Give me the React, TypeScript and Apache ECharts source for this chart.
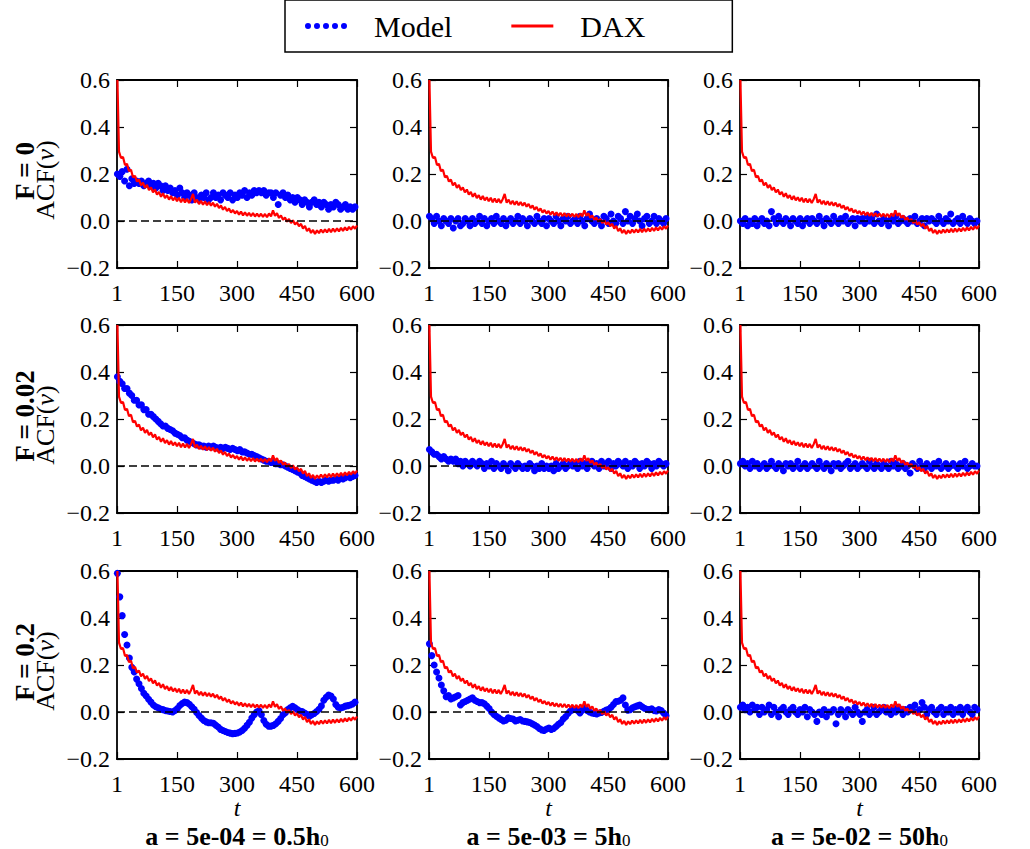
import React, { useEffect, useRef } from "react";
import * as echarts from "echarts";

// ---------- data ----------
const rowLabels = ["F = 0", "F = 0.02", "F = 0.2"];
const colTitles = ["a = 5e-04 = 0.5h", "a = 5e-03 = 5h", "a = 5e-02 = 50h"];
const colTitleSub = "0";
const xLabel = "t";
const yLabelMain = "ACF(";
const yLabelVar = "v";
const seriesNames = ["Model", "DAX"];

// lags of the plotted points
const daxLags = Array.from({ length: 121 }, (_, i) => (i === 0 ? 1 : 5 * i));
const modelLags = Array.from({ length: 100 }, (_, i) => 1 + 6 * i);

// DAX empirical ACF (same in every panel)
const daxValues = [
  0.6,
  0.295, 0.268, 0.272, 0.238, 0.243, 0.212, 0.218, 0.186, 0.192, 0.168,
  0.176, 0.152, 0.163, 0.141, 0.154, 0.131, 0.143, 0.122, 0.134, 0.112,
  0.124, 0.103, 0.118, 0.097, 0.11, 0.091, 0.106, 0.088, 0.101, 0.084,
  0.099, 0.08, 0.096, 0.079, 0.094, 0.077, 0.093, 0.115, 0.078, 0.091,
  0.072, 0.086, 0.069, 0.084, 0.067, 0.081, 0.065, 0.078, 0.061, 0.073,
  0.055, 0.066, 0.048, 0.06, 0.042, 0.053, 0.036, 0.047, 0.032, 0.043,
  0.027, 0.04, 0.024, 0.037, 0.022, 0.035, 0.02, 0.034, 0.019, 0.032,
  0.018, 0.031, 0.017, 0.03, 0.016, 0.032, 0.02, 0.045, 0.022, 0.033,
  0.013, 0.024, 0.005, 0.015, -0.003, 0.009, -0.009, 0.003, -0.015, -0.005,
  -0.022, -0.012, -0.032, -0.021, -0.043, -0.031, -0.051, -0.038, -0.055, -0.04,
  -0.052, -0.036, -0.05, -0.035, -0.049, -0.033, -0.048, -0.032, -0.046, -0.031,
  -0.044, -0.029, -0.042, -0.027, -0.04, -0.025, -0.037, -0.022, -0.033, -0.019,
];

// Model ACF, row F = 0
const modelF0a1 = [
  0.2, 0.19, 0.21, 0.17, 0.22, 0.15, 0.18, 0.16, 0.17, 0.16,
  0.17, 0.15, 0.16, 0.17, 0.15, 0.16, 0.14, 0.16, 0.15, 0.13,
  0.15, 0.13, 0.14, 0.12, 0.13, 0.11, 0.14, 0.12, 0.1, 0.12,
  0.11, 0.09, 0.12, 0.1, 0.09, 0.11, 0.1, 0.12, 0.09, 0.1,
  0.12, 0.1, 0.11, 0.09, 0.12, 0.11, 0.1, 0.12, 0.09, 0.11,
  0.1, 0.12, 0.11, 0.13, 0.1, 0.12, 0.11, 0.13, 0.12, 0.13,
  0.12, 0.13, 0.11, 0.12, 0.12, 0.1, 0.12, 0.07, 0.11, 0.12,
  0.1, 0.11, 0.09, 0.1, 0.08, 0.1, 0.09, 0.07, 0.09, 0.08,
  0.06, 0.08, 0.09, 0.07, 0.08, 0.06, 0.08, 0.07, 0.05, 0.07,
  0.06, 0.08, 0.07, 0.05, 0.06, 0.07, 0.05, 0.06, 0.05, 0.06,
];
const modelF0a2 = [
  0.02, 0.01, -0.01, 0.02, 0.0, -0.02, 0.01, 0.0, -0.01, 0.01,
  -0.03, 0.0, 0.01, -0.02, -0.01, 0.01, 0.0, -0.02, 0.01, -0.01,
  0.0, 0.02, -0.01, 0.01, -0.02, 0.0, 0.01, -0.01, 0.02, 0.0,
  -0.01, 0.01, -0.02, 0.0, 0.01, -0.01, 0.0, 0.02, -0.01, 0.01,
  0.0, -0.02, 0.01, 0.0, -0.01, 0.02, 0.0, -0.01, 0.01, -0.02,
  0.01, 0.0, -0.01, 0.02, 0.0, -0.02, 0.01, 0.0, 0.02, -0.01,
  0.0, 0.01, -0.01, 0.02, 0.0, -0.02, 0.01, 0.03, 0.0, -0.01,
  0.01, 0.0, -0.02, 0.02, 0.01, -0.01, 0.03, 0.0, -0.01, 0.02,
  0.01, -0.01, 0.04, 0.0, 0.02, -0.01, 0.01, 0.03, 0.0, -0.02,
  0.01, 0.02, -0.01, 0.0, 0.02, -0.01, 0.01, 0.0, -0.01, 0.01,
];
const modelF0a3 = [
  0.0, -0.01, 0.01, -0.02, 0.0, -0.01, 0.01, -0.02, 0.0, 0.01,
  -0.01, 0.0, -0.02, 0.04, 0.01, -0.01, 0.02, 0.0, -0.01, 0.01,
  0.0, -0.02, 0.01, 0.0, -0.01, 0.01, -0.02, 0.0, 0.01, -0.01,
  0.01, 0.0, -0.01, 0.02, 0.0, -0.02, 0.01, 0.0, -0.01, 0.02,
  0.0, -0.01, 0.01, 0.0, 0.02, -0.01, 0.0, 0.01, -0.02, 0.01,
  0.0, 0.01, -0.01, 0.02, 0.0, 0.01, -0.01, 0.03, 0.0, -0.01,
  0.01, 0.0, -0.02, 0.01, 0.0, 0.02, -0.01, 0.0, 0.01, 0.0,
  -0.01, 0.01, 0.0, 0.02, -0.01, 0.0, 0.01, -0.02, 0.01, 0.0,
  0.01, 0.0, -0.01, 0.02, 0.0, -0.01, 0.01, 0.0, 0.03, -0.01,
  0.0, 0.01, -0.01, 0.02, 0.0, -0.01, 0.01, 0.0, -0.01, 0.0,
];

// Model ACF, row F = 0.02
const modelF002a1 = [
  0.38, 0.36, 0.35, 0.33, 0.33, 0.31, 0.3, 0.28, 0.28, 0.26,
  0.26, 0.24, 0.24, 0.22, 0.22, 0.21, 0.2, 0.19, 0.18, 0.17,
  0.17, 0.16, 0.155, 0.15, 0.14, 0.135, 0.13, 0.12, 0.12, 0.11,
  0.105, 0.1, 0.095, 0.09, 0.09, 0.085, 0.085, 0.08, 0.085, 0.08,
  0.085, 0.08, 0.075, 0.08, 0.075, 0.08, 0.075, 0.07, 0.075, 0.07,
  0.065, 0.07, 0.06, 0.06, 0.055, 0.05, 0.05, 0.045, 0.04, 0.035,
  0.03, 0.025, 0.02, 0.02, 0.015, 0.015, 0.01, 0.01, 0.005, 0.005,
  0.0, -0.005, -0.01, -0.015, -0.02, -0.025, -0.03, -0.04, -0.045, -0.05,
  -0.055, -0.06, -0.065, -0.07, -0.065, -0.07, -0.065, -0.06, -0.065, -0.06,
  -0.06, -0.055, -0.06, -0.05, -0.055, -0.05, -0.045, -0.05, -0.045, -0.04,
];
const modelF002a2 = [
  0.07, 0.06, 0.05, 0.05, 0.04, 0.03, 0.04, 0.03, 0.02, 0.03,
  0.02, 0.03, 0.01, 0.02, 0.0, 0.02, 0.01, 0.0, 0.02, 0.01,
  0.0, 0.02, 0.01, -0.01, 0.01, 0.0, 0.02, -0.01, 0.01, 0.0,
  -0.01, 0.01, 0.0, -0.02, 0.01, 0.0, -0.01, 0.01, 0.0, -0.01,
  0.0, -0.01, 0.01, 0.0, -0.02, 0.0, -0.01, 0.01, -0.01, 0.0,
  -0.01, 0.0, -0.02, 0.01, -0.01, 0.0, 0.01, -0.01, 0.0, 0.01,
  0.0, 0.01, -0.01, 0.02, 0.0, 0.01, -0.01, 0.01, 0.02, 0.0,
  0.01, -0.01, 0.02, 0.0, 0.01, 0.02, -0.01, 0.01, 0.0, 0.02,
  0.01, 0.0, 0.02, -0.01, 0.01, 0.0, 0.02, 0.01, -0.01, 0.01,
  0.0, 0.02, 0.01, -0.01, 0.01, 0.0, 0.02, 0.01, 0.0, 0.01,
];
const modelF002a3 = [
  0.01, 0.02, 0.0, 0.01, -0.01, 0.02, 0.0, 0.01, -0.01, 0.0,
  0.01, -0.01, 0.0, 0.02, 0.0, -0.01, 0.01, 0.0, -0.02, 0.01,
  0.0, 0.01, -0.01, 0.0, 0.02, -0.01, 0.0, 0.01, -0.01, 0.0,
  0.01, 0.0, -0.01, 0.02, 0.0, -0.01, 0.01, 0.0, -0.02, 0.01,
  0.0, 0.01, -0.01, 0.0, 0.01, 0.02, -0.01, 0.0, 0.01, -0.01,
  0.0, 0.01, 0.0, -0.01, 0.02, 0.0, -0.01, 0.01, 0.0, -0.01,
  0.01, 0.0, -0.01, 0.02, 0.0, 0.01, -0.01, 0.0, 0.01, -0.01,
  0.0, -0.03, 0.01, 0.0, -0.01, 0.02, 0.0, -0.01, 0.01, 0.0,
  -0.01, 0.01, 0.0, 0.02, -0.01, 0.0, 0.01, -0.01, 0.0, 0.01,
  0.0, -0.01, 0.01, 0.0, 0.02, -0.01, 0.0, 0.01, 0.0, 0.0,
];

// Model ACF, row F = 0.2
const modelF02a1 = [
  0.59, 0.49, 0.41, 0.33, 0.285, 0.23, 0.19, 0.17, 0.14, 0.12,
  0.1, 0.08, 0.068, 0.054, 0.042, 0.03, 0.022, 0.018, 0.013, 0.01,
  0.006, 0.004, 0.002, 0.0, 0.006, 0.015, 0.028, 0.036, 0.042, 0.04,
  0.033, 0.022, 0.012, -0.002, -0.015, -0.026, -0.036, -0.042, -0.046, -0.046,
  -0.048, -0.056, -0.064, -0.074, -0.079, -0.083, -0.087, -0.09, -0.092, -0.091,
  -0.089, -0.085, -0.079, -0.069, -0.057, -0.044, -0.026, -0.012, 0.0, 0.005,
  -0.012, -0.036, -0.052, -0.06, -0.06, -0.057, -0.05, -0.04, -0.028, -0.012,
  -0.003, 0.01, 0.018, 0.024, 0.018, 0.01, 0.004, 0.002, -0.004, -0.01,
  -0.018, -0.012, -0.006, 0.002, 0.012, 0.026, 0.05, 0.063, 0.072, 0.068,
  0.055, 0.032, 0.02, 0.017, 0.02, 0.025, 0.027, 0.03, 0.034, 0.042,
];
const modelF02a2 = [
  0.29, 0.24, 0.2, 0.17, 0.145, 0.115, 0.09, 0.065, 0.07, 0.055,
  0.06, 0.065, 0.07, 0.03, 0.04, 0.045, 0.05, 0.055, 0.06, 0.05,
  0.045, 0.04, 0.04, 0.035, 0.025, 0.015, 0.0, -0.01, -0.018, -0.025,
  -0.032, -0.038, -0.035, -0.025, -0.028, -0.03, -0.038, -0.035, -0.032, -0.038,
  -0.04, -0.042, -0.045, -0.05, -0.055, -0.062, -0.07, -0.076, -0.079, -0.072,
  -0.068, -0.074, -0.07, -0.062, -0.052, -0.045, -0.03, -0.02, -0.006, 0.004,
  0.01, 0.012, 0.006, -0.004, 0.008, 0.017, 0.006, 0.0, -0.004, -0.006,
  -0.008, -0.004, -0.002, 0.003, 0.008, 0.012, 0.02, 0.032, 0.044, 0.046,
  0.05, 0.06, 0.03, 0.008, 0.01, 0.018, 0.022, 0.026, 0.03, 0.022,
  0.016, 0.012, 0.01, 0.014, 0.006, 0.004, 0.01, 0.006, -0.004, -0.016,
];
const modelF02a3 = [
  0.02, 0.03, 0.01, 0.02, 0.0, 0.03, 0.01, 0.02, -0.01, 0.02,
  0.0, 0.01, 0.03, -0.01, 0.02, 0.0, -0.02, 0.01, 0.02, 0.0,
  -0.01, 0.01, 0.02, 0.0, -0.01, 0.01, 0.0, 0.02, -0.02, 0.01,
  0.0, -0.01, -0.04, 0.0, -0.01, 0.01, -0.02, 0.0, 0.0, 0.01,
  -0.05, -0.01, 0.01, 0.0, -0.02, 0.01, 0.0, -0.01, 0.02, 0.0,
  -0.01, -0.04, 0.0, 0.01, -0.01, 0.0, 0.02, -0.01, 0.0, 0.01,
  0.02, 0.0, 0.01, -0.01, 0.01, 0.0, 0.02, 0.01, -0.01, 0.01,
  0.0, 0.02, 0.01, 0.03, 0.0, 0.01, 0.04, 0.02, -0.01, 0.01,
  0.02, 0.0, -0.01, 0.01, 0.02, -0.01, 0.01, 0.0, 0.02, -0.01,
  0.01, 0.0, 0.02, -0.01, 0.01, 0.02, 0.0, -0.01, 0.02, 0.01,
];

const modelPanels = [
  [modelF0a1, modelF0a2, modelF0a3],
  [modelF002a1, modelF002a2, modelF002a3],
  [modelF02a1, modelF02a2, modelF02a3],
];

// axis ranges (x axis from 0, first label shown as "1")
const xMin = 0;
const xMax = 600;
const xInterval = 150;
const yMin = -0.2;
const yMax = 0.6;
const yInterval = 0.2;

// ---------- layout ----------
const FONT = "Liberation Serif";
const LEFTS = [117, 429, 740];
const WIDTHS = [240, 239, 239];
const TOPS = [80, 325, 571];
const H = 188;

const fmtY = (v: number) => {
  if (Math.abs(v) < 1e-9) return "0.0";
  return (v < 0 ? "\u2212" : "") + Math.abs(v).toFixed(1);
};
const fmtX = (v: number) => (v === 0 ? "1" : String(v));

const dotsIcon =
  "path://M0,3a3,3 0 1,0 6,0a3,3 0 1,0 -6,0Z" +
  "M9,3a3,3 0 1,0 6,0a3,3 0 1,0 -6,0Z" +
  "M18,3a3,3 0 1,0 6,0a3,3 0 1,0 -6,0Z" +
  "M27,3a3,3 0 1,0 6,0a3,3 0 1,0 -6,0Z" +
  "M36,3a3,3 0 1,0 6,0a3,3 0 1,0 -6,0Z";
const lineIcon = "path://M0,0L38,0L38,2.5L0,2.5Z";

function buildOption() {
  const grid: any[] = [];
  const xAxis: any[] = [];
  const yAxis: any[] = [];
  const series: any[] = [];
  const graphic: any[] = [];

  const axisLine = { show: true, onZero: false, lineStyle: { color: "#000", width: 1.8 } };
  const axisTick = { show: true, inside: true, length: 7, lineStyle: { color: "#000", width: 1.2 } };

  for (let r = 0; r < 3; r++) {
    for (let c = 0; c < 3; c++) {
      const k = r * 3 + c;
      grid.push({ left: LEFTS[c], top: TOPS[r], width: WIDTHS[c], height: H });
      const xBase = {
        type: "value",
        gridIndex: k,
        min: xMin,
        max: xMax,
        interval: xInterval,
        axisLine,
        axisTick,
        splitLine: { show: false },
      };
      xAxis.push({
        ...xBase,
        position: "bottom",
        axisLabel: {
          show: true,
          margin: 13,
          color: "#000",
          fontFamily: FONT,
          fontSize: 24,
          formatter: fmtX,
        },
      });
      xAxis.push({ ...xBase, position: "top", axisLabel: { show: false } });
      const yBase = {
        type: "value",
        gridIndex: k,
        min: yMin,
        max: yMax,
        interval: yInterval,
        axisLine,
        axisTick,
        splitLine: { show: false },
      };
      yAxis.push({
        ...yBase,
        position: "left",
        axisLabel: {
          show: true,
          margin: 7,
          color: "#000",
          fontFamily: FONT,
          fontSize: 24,
          formatter: fmtY,
        },
      });
      yAxis.push({ ...yBase, position: "right", axisLabel: { show: false } });

      const vals = modelPanels[r][c];
      series.push({
        name: seriesNames[0],
        type: "scatter",
        xAxisIndex: 2 * k,
        yAxisIndex: 2 * k,
        data: modelLags.map((t, i) => [t, vals[i]]),
        symbol: "circle",
        symbolSize: 7,
        itemStyle: { color: "#0000ff", opacity: 1 },
        z: 2,
        silent: true,
      });
      series.push({
        name: seriesNames[1],
        type: "line",
        xAxisIndex: 2 * k,
        yAxisIndex: 2 * k,
        data: daxLags.map((t, i) => [t, daxValues[i]]),
        symbol: "none",
        showSymbol: false,
        lineStyle: { color: "#ff0000", width: 2.2 },
        itemStyle: { color: "#ff0000" },
        z: 3,
        silent: true,
        markLine: {
          silent: true,
          symbol: ["none", "none"],
          label: { show: false },
          lineStyle: { color: "#000", type: [8, 4], width: 1.5 },
          data: [{ yAxis: 0 }],
        },
      });
    }
  }

  // row labels (rotated)
  for (let r = 0; r < 3; r++) {
    const cy = TOPS[r] + H / 2;
    graphic.push({
      type: "text",
      x: 25,
      y: cy - 3,
      rotation: Math.PI / 2,
      style: {
        text: rowLabels[r],
        fill: "#000",
        fontFamily: FONT,
        fontSize: 27,
        fontWeight: "bold",
        align: "center",
        verticalAlign: "middle",
      },
    });
    graphic.push({
      type: "text",
      x: 45,
      y: cy + 6,
      rotation: Math.PI / 2,
      style: {
        text: `{n|${yLabelMain}}{i|${yLabelVar}}{n|)}`,
        align: "center",
        verticalAlign: "middle",
        rich: {
          n: { fontFamily: FONT, fontSize: 26, fill: "#000" },
          i: { fontFamily: FONT, fontSize: 26, fontStyle: "italic", fill: "#000" },
        },
      },
    });
  }

  // column labels
  for (let c = 0; c < 3; c++) {
    const cx = LEFTS[c] + WIDTHS[c] / 2;
    graphic.push({
      type: "text",
      x: cx,
      y: 808,
      style: {
        text: xLabel,
        fill: "#000",
        fontFamily: FONT,
        fontSize: 24,
        lineHeight: 22,
        fontStyle: "italic",
        align: "center",
        verticalAlign: "middle",
      },
    });
    graphic.push({
      type: "text",
      x: cx,
      y: 836,
      style: {
        text: `{b|${colTitles[c]}}{s|${colTitleSub}}`,
        align: "center",
        verticalAlign: "middle",
        rich: {
          b: { fontFamily: FONT, fontSize: 26, fontWeight: "bold", fill: "#000", lineHeight: 25 },
          s: { fontFamily: FONT, fontSize: 17, fill: "#000", lineHeight: 14, verticalAlign: "bottom" },
        },
      },
    });
  }

  return {
    animation: false,
    backgroundColor: "#fff",
    grid,
    xAxis,
    yAxis,
    series,
    graphic,
    legend: {
      left: 285,
      top: 0,
      orient: "horizontal",
      itemWidth: 42,
      itemHeight: 6,
      itemGap: 59,
      padding: [11, 87, 11, 20],
      borderColor: "#000",
      borderWidth: 1.5,
      borderRadius: 0,
      backgroundColor: "#fff",
      selectedMode: false,
      textStyle: { fontFamily: FONT, fontSize: 30, color: "#000", padding: [0, 0, 0, 22] },
      data: [
        { name: seriesNames[0], icon: dotsIcon, itemStyle: { color: "#0000ff", opacity: 1 } },
        { name: seriesNames[1], icon: lineIcon, itemStyle: { color: "#ff0000" } },
      ],
    },
  };
}

export default function App() {
  const ref = useRef<HTMLDivElement>(null);
  useEffect(() => {
    document.body.style.margin = "0";
    if (!ref.current) return;
    const chart = echarts.init(ref.current, undefined, { renderer: "svg" });
    chart.setOption(buildOption() as any);
    return () => chart.dispose();
  }, []);
  return <div ref={ref} style={{ width: 1030, height: 849, overflow: "hidden" }} />;
}
